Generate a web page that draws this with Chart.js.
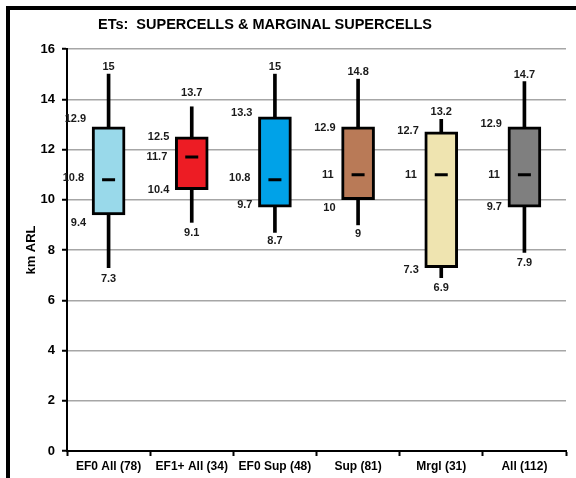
<!DOCTYPE html>
<html>
<head>
<meta charset="utf-8">
<script src="https://cdn.jsdelivr.net/npm/chart.js@4/dist/chart.umd.min.js"></script>
<style>
  html, body { margin: 0; padding: 0; background: #fff; }
  canvas { display: block; }
</style>
</head>
<body>
<canvas id="arl" width="576" height="478"></canvas>
<script>
// categories + five-number summaries
const categories = ['EF0 All (78)', 'EF1+ All (34)', 'EF0 Sup (48)', 'Sup (81)', 'Mrgl (31)', 'All (112)'];
const minVals = [7.3, 9.1, 8.7, 9, 6.9, 7.9];
const q1Vals = [9.4, 10.4, 9.7, 10, 7.3, 9.7];
const medianVals = [10.8, 11.7, 10.8, 11, 11, 11];
const q3Vals = [12.9, 12.5, 13.3, 12.9, 12.7, 12.9];
const maxVals = [15, 13.7, 15, 14.8, 13.2, 14.7];
const yTicks = [0, 2, 4, 6, 8, 10, 12, 14, 16];

const boxColors = ['#99d9ea', '#ed1c24', '#00a2e8', '#b97a57', '#efe4b0', '#7f7f7f'];

// vertical nudges (px) for the value labels, as placed in the original
const labelNudge = {
    max: [-7, -14, -7, -7, -7, -7],
    q3: [-8, 0, -4, 1, -1, -3],
    med: [-2, 0, -2, 0, 0, 0],
    q1: [8, 0, -2, 8, 2, 0],
    min: [11, 11, 9, 9, 10, 10]
};

const FONT = 'Arial, "Liberation Sans", sans-serif';
const BOX_W = 33;

// frame, title and value labels
const decorPlugin = {
    id: 'decor',
    beforeDraw(chart) {
        const ctx = chart.ctx;
        ctx.save();
        ctx.fillStyle = '#fff';
        ctx.fillRect(0, 0, chart.width, chart.height);
        ctx.strokeStyle = '#000';
        ctx.lineWidth = 4;
        ctx.strokeRect(8, 8, 620, 520);
        ctx.restore();
    },
    afterDatasetsDraw(chart) {
        const ctx = chart.ctx;
        const x = chart.scales.x;
        const y = chart.scales.y;
        ctx.save();
        ctx.fillStyle = '#000';
        ctx.font = 'bold 14.5px ' + FONT;
        ctx.textAlign = 'center';
        ctx.textBaseline = 'middle';
        ctx.fillText('ETs:  SUPERCELLS & MARGINAL SUPERCELLS', 265, 25);

        ctx.font = 'bold 11px ' + FONT;
        ctx.fillStyle = '#1a1a1a';
        categories.forEach((c, i) => {
            const cx = x.getPixelForValue(i);
            const left = cx - BOX_W / 2;
            ctx.textAlign = 'center';
            ctx.fillText(String(maxVals[i]), cx, y.getPixelForValue(maxVals[i]) + labelNudge.max[i]);
            ctx.fillText(String(minVals[i]), cx, y.getPixelForValue(minVals[i]) + labelNudge.min[i]);
            ctx.textAlign = 'right';
            ctx.fillText(String(q3Vals[i]), left - 6, y.getPixelForValue(q3Vals[i]) + labelNudge.q3[i]);
            ctx.fillText(String(q1Vals[i]), left - 6, y.getPixelForValue(q1Vals[i]) + labelNudge.q1[i]);
            ctx.fillText(String(medianVals[i]), left - 8, y.getPixelForValue(medianVals[i]) + labelNudge.med[i]);
        });
        ctx.restore();
    }
};

new Chart(document.getElementById('arl'), {
    data: {
        labels: categories,
        datasets: [
            {
                type: 'line',
                data: medianVals,
                showLine: false,
                pointStyle: 'line',
                pointRadius: 6.5,
                pointBorderWidth: 3,
                borderColor: '#000',
                order: 0
            },
            {
                type: 'bar',
                data: q1Vals.map((v, i) => [v, q3Vals[i]]),
                backgroundColor: boxColors,
                borderColor: '#000',
                borderWidth: 3,
                borderSkipped: false,
                barThickness: BOX_W,
                grouped: false,
                order: 1
            },
            {
                type: 'bar',
                data: minVals.map((v, i) => [v, maxVals[i]]),
                backgroundColor: '#000',
                borderWidth: 0,
                barThickness: 3,
                grouped: false,
                order: 2
            }
        ]
    },
    options: {
        responsive: false,
        animation: false,
        devicePixelRatio: 1,
        layout: { padding: { top: 49, right: 10, bottom: 0, left: 0 } },
        plugins: {
            legend: { display: false },
            tooltip: { enabled: false }
        },
        scales: {
            x: {
                type: 'category',
                offset: true,
                grid: {
                    offset: true,
                    drawOnChartArea: false,
                    tickLength: 5,
                    tickColor: '#000',
                    tickWidth: 2
                },
                border: { color: '#000', width: 2 },
                ticks: {
                    color: '#000',
                    padding: 3,
                    maxRotation: 0,
                    autoSkip: false,
                    font: { family: FONT, size: 12, weight: 'bold' }
                },
                afterFit(scale) { scale.height = 27; }
            },
            y: {
                min: 0,
                max: 16,
                afterBuildTicks(scale) { scale.ticks = yTicks.map(v => ({ value: v })); },
                grid: {
                    color: '#a6a6a6',
                    lineWidth: 1.5,
                    tickLength: 5,
                    tickColor: '#000',
                    tickWidth: 2
                },
                border: { color: '#000', width: 2 },
                ticks: {
                    color: '#000',
                    padding: 7,
                    font: { family: FONT, size: 13, weight: 'bold' }
                },
                title: {
                    display: true,
                    text: 'km ARL',
                    color: '#000',
                    padding: { top: 24, bottom: 0 },
                    font: { family: FONT, size: 13, weight: 'bold' }
                },
                afterFit(scale) { scale.width = 67; }
            }
        }
    },
    plugins: [decorPlugin]
});
</script>
</body>
</html>
